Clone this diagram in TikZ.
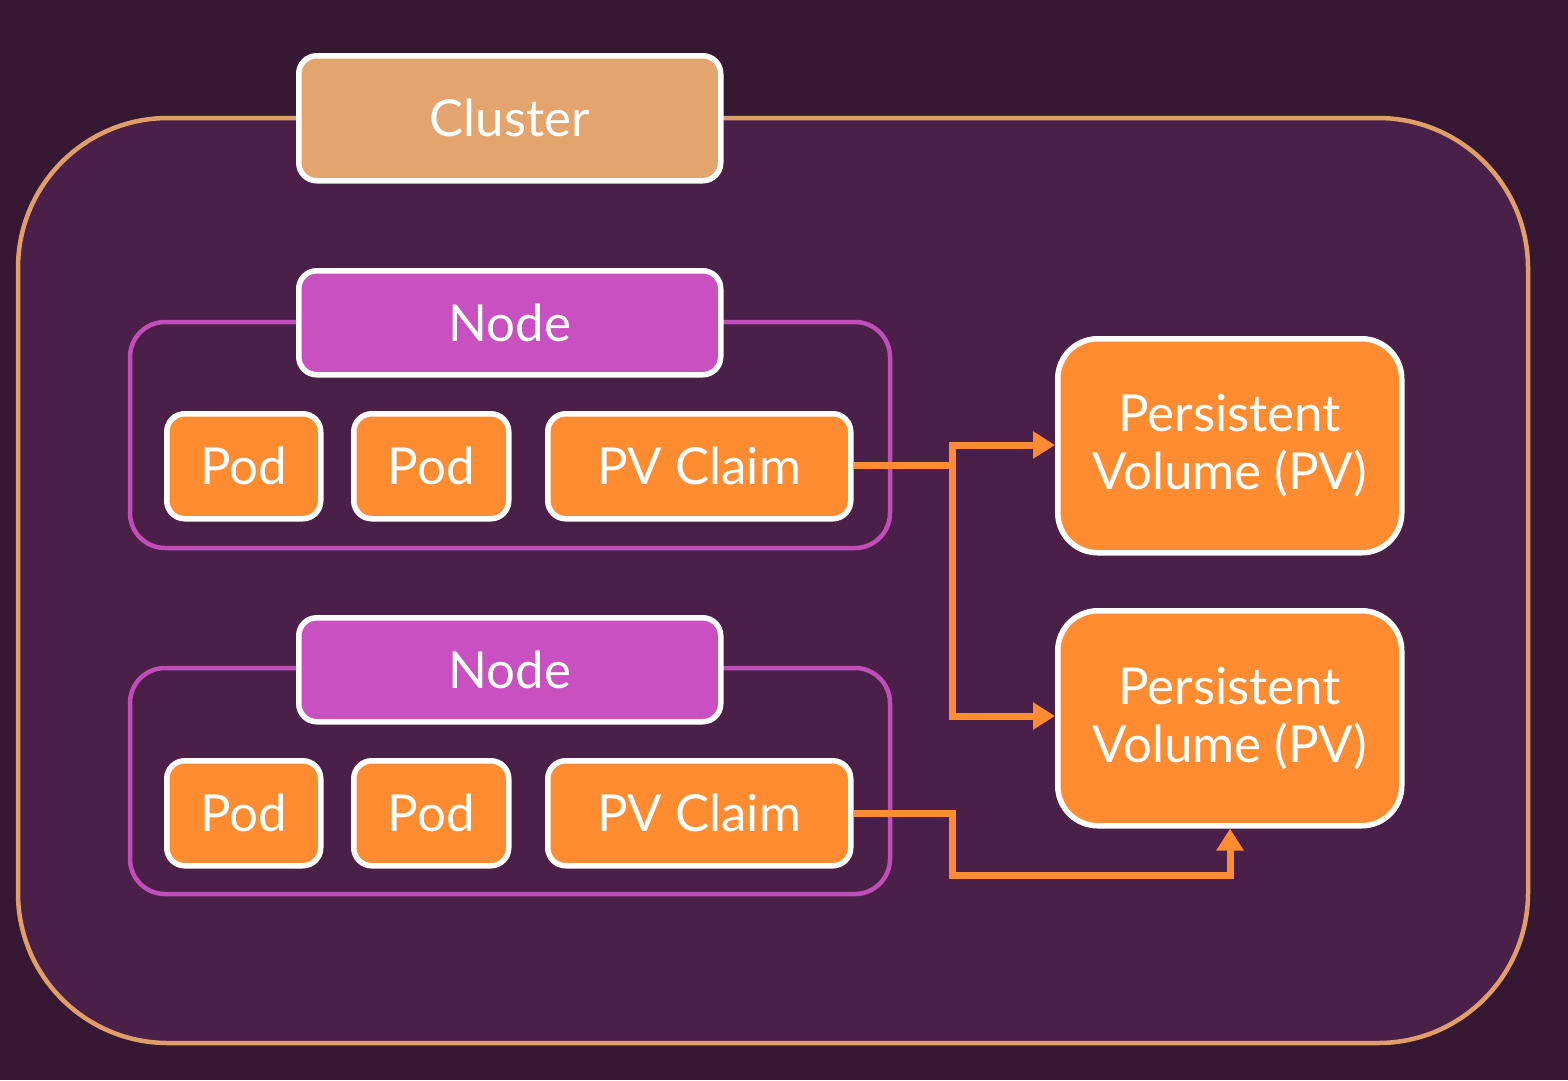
\documentclass[tikz,border=0pt]{standalone}
\usepackage{fontspec}
\setmainfont{Lato}
\usetikzlibrary{arrows.meta}
\definecolor{bgdark}{HTML}{361833}
\definecolor{clusterfill}{HTML}{4A1F48}
\definecolor{clusterline}{HTML}{E09E68}
\definecolor{clusterlabel}{HTML}{E3A46E}
\definecolor{nodelabel}{HTML}{C850C0}
\definecolor{nodeline}{HTML}{C04DB9}
\definecolor{podfill}{HTML}{FF8C30}
\tikzset{
  box/.style={draw=white, line width=5.5pt, rounded corners=18pt, text=white,
    font=\fontsize{51}{56}\selectfont, inner sep=0pt, anchor=north west},
  clusterbox/.style={box, fill=clusterlabel},
  nodebox/.style={box, fill=nodelabel},
  podbox/.style={box, fill=podfill},
  pvbox/.style={box, fill=podfill, rounded corners=40pt, align=center,
    font=\fontsize{51}{58}\selectfont},
  group/.style={draw=nodeline, line width=4.5pt, rounded corners=35pt},
  link/.style={draw=podfill, line width=7pt,
    -{Triangle[length=22pt,width=26pt]}},
  linkplain/.style={draw=podfill, line width=7pt},
}
\begin{document}
\begin{tikzpicture}[x=1pt,y=-1pt]
  % canvas
  \fill[bgdark] (0,0) rectangle (1568,1080);
  \useasboundingbox (0,0) rectangle (1568,1080);

  % cluster frame
  \draw[clusterline, fill=clusterfill, line width=4.5pt, rounded corners=150pt]
    (18,118) rectangle (1528,1043);

  % node frames
  \draw[group] (130,322) rectangle (890,548);
  \draw[group] (130,668) rectangle (890,894);

  % labels of the frames
  \node[clusterbox, minimum width=422pt, minimum height=125pt] (cluster) at (296,53) {Cluster};
  \node[nodebox, minimum width=422pt, minimum height=104pt] (node1) at (296,268) {Node};
  \node[nodebox, minimum width=422pt, minimum height=104pt] (node2) at (296,615) {Node};

  % pods and claims, first node
  \node[podbox, minimum width=154pt, minimum height=105pt] (pod1) at (164,411) {Pod};
  \node[podbox, minimum width=155pt, minimum height=105pt] (pod2) at (351,411) {Pod};
  \node[podbox, minimum width=303pt, minimum height=105pt] (claim1) at (545,411) {PV Claim};

  % pods and claims, second node
  \node[podbox, minimum width=154pt, minimum height=105pt] (pod3) at (164,758) {Pod};
  \node[podbox, minimum width=155pt, minimum height=105pt] (pod4) at (351,758) {Pod};
  \node[podbox, minimum width=303pt, minimum height=105pt] (claim2) at (545,758) {PV Claim};

  % persistent volumes
  \node[pvbox, minimum width=344pt, minimum height=214pt] (pv1) at (1055,336) {Persistent\\Volume (PV)};
  \node[pvbox, minimum width=344pt, minimum height=215pt] (pv2) at (1055,608) {Persistent\\Volume (PV)};

  % branching and routing points
  \coordinate (split) at (952,465);
  \coordinate (bend) at (952,875);

  % connectors
  \draw[linkplain] (claim1.east |- split) -- (split);
  \draw[link] (split) |- (pv1.west |- 0,445);
  \draw[link] (split) |- (pv2.west |- 0,716);
  \draw[link] (claim2.east |- 0,813) -| (bend) -| (pv2.south -| 1230,0);
\end{tikzpicture}
\end{document}
